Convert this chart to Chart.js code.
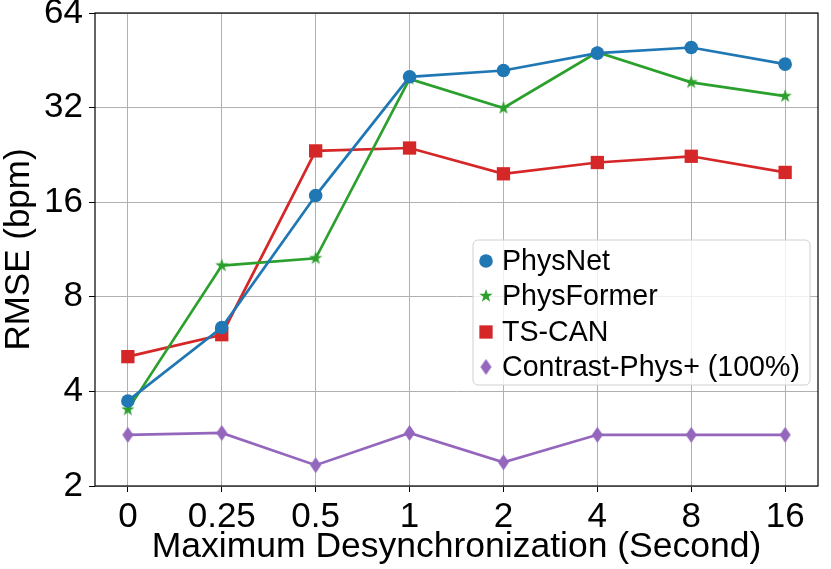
<!DOCTYPE html>
<html>
<head>
<meta charset="utf-8">
<script src="https://cdn.jsdelivr.net/npm/chart.js@4.4.0/dist/chart.umd.min.js"></script>
<style>
  html, body { margin: 0; padding: 0; background: #fff; }
  #wrap { width: 831px; height: 569px; }
</style>
</head>
<body>
<div id="wrap"><canvas id="chart"></canvas></div>
<script>
// values (RMSE in bpm, log2 axis)
const xLabels = ['0', '0.25', '0.5', '1', '2', '4', '8', '16'];
const yTicks = [2, 4, 8, 16, 32, 64];
const physNet = [3.73, 6.39, 16.8, 40.1, 42.0, 47.7, 49.7, 44.0];
const physFormer = [3.50, 10.06, 10.61, 39.5, 31.9, 48.0, 38.5, 34.8];
const tsCan = [5.16, 6.06, 23.3, 23.8, 19.7, 21.4, 22.4, 19.9];
const contrastPhys = [2.91, 2.95, 2.33, 2.95, 2.38, 2.91, 2.91, 2.91];

const FONT = "'Liberation Sans', Arial, Helvetica, sans-serif";

function makeStar(r, color) {
  const c = document.createElement('canvas');
  c.width = c.height = Math.ceil(r * 2 + 2);
  const g = c.getContext('2d');
  const cx = c.width / 2, cy = c.height / 2;
  g.beginPath();
  for (let i = 0; i < 10; i++) {
    const rad = i % 2 === 0 ? r : r * 0.4;
    const a = -Math.PI / 2 + i * Math.PI / 5;
    g.lineTo(cx + rad * Math.cos(a), cy + rad * Math.sin(a));
  }
  g.closePath();
  g.fillStyle = color;
  g.fill();
  return c;
}

function makeDiamond(w, h, color) {
  const c = document.createElement('canvas');
  c.width = Math.ceil(w + 2);
  c.height = Math.ceil(h + 2);
  const g = c.getContext('2d');
  const cx = c.width / 2, cy = c.height / 2;
  g.beginPath();
  g.moveTo(cx, cy - h / 2);
  g.lineTo(cx + w / 2, cy);
  g.lineTo(cx, cy + h / 2);
  g.lineTo(cx - w / 2, cy);
  g.closePath();
  g.fillStyle = color;
  g.fill();
  return c;
}

const toPoints = arr => arr.map((v, i) => ({ x: i, y: v }));

function series(label, values, color, style, radius) {
  return {
    label: label,
    data: toPoints(values),
    borderColor: color,
    backgroundColor: color,
    borderWidth: 2.7,
    pointStyle: style,
    pointRadius: radius,
    pointBorderWidth: 0,
    pointBackgroundColor: color,
    pointBorderColor: color,
    tension: 0,
    fill: false
  };
}

const starImg = makeStar(7, '#2ca02c');
const diamondImg = makeDiamond(11, 16, '#9467bd');

const frame = {
  id: 'frame',
  afterDatasetsDraw(chart) {
    const { ctx, chartArea: a } = chart;
    ctx.save();
    ctx.strokeStyle = '#000';
    ctx.lineWidth = 1.2;
    ctx.strokeRect(a.left, a.top, a.right - a.left, a.bottom - a.top);
    ctx.restore();
  }
};

const legendBox = {
  id: 'legendBox',
  afterDraw(chart) {
    const ctx = chart.ctx;
    const x0 = 473, y0 = 240, w = 337, h = 145, r = 5;
    ctx.save();
    ctx.beginPath();
    ctx.roundRect(x0, y0, w, h, r);
    ctx.fillStyle = 'rgba(255,255,255,0.8)';
    ctx.fill();
    ctx.strokeStyle = '#d0d0d0';
    ctx.lineWidth = 1;
    ctx.stroke();
    ctx.font = '28.6px ' + FONT;
    ctx.textBaseline = 'middle';
    ctx.fillStyle = '#000';
    const rows = [261, 296, 332, 367];
    chart.data.datasets.forEach((ds, i) => {
      const y = rows[i];
      ctx.fillStyle = ds.pointBackgroundColor;
      Chart.helpers.drawPoint(ctx, {
        pointStyle: ds.pointStyle,
        radius: ds.pointRadius,
        rotation: 0,
        borderWidth: 0
      }, 486, y);
      ctx.fillStyle = '#000';
      ctx.fillText(ds.label, 502, y + 1);
    });
    ctx.restore();
  }
};

new Chart(document.getElementById('chart'), {
  type: 'line',
  data: {
    datasets: [
      series('PhysNet', physNet, '#1f77b4', 'circle', 6.8),
      series('PhysFormer', physFormer, '#2ca02c', starImg, 7),
      series('TS-CAN', tsCan, '#d62728', 'rect', 9.4),
      series('Contrast-Phys+ (100%)', contrastPhys, '#9467bd', diamondImg, 8)
    ]
  },
  options: {
    responsive: true,
    maintainAspectRatio: false,
    animation: false,
    layout: { padding: { top: 13, right: 13, left: 0, bottom: 0 } },
    plugins: {
      legend: { display: false },
      tooltip: { enabled: false }
    },
    scales: {
      x: {
        type: 'linear',
        min: -0.35,
        max: 7.35,
        afterBuildTicks: s => { s.ticks = xLabels.map((_, i) => ({ value: i })); },
        afterFit: s => { s.height = 83; s.paddingLeft = 0; s.paddingRight = 0; },
        ticks: {
          callback: v => xLabels[v],
          font: { family: FONT, size: 35 },
          color: '#000',
          padding: 4,
          maxRotation: 0,
          autoSkip: false
        },
        grid: { color: '#b0b0b0', tickColor: '#000', tickLength: 6, lineWidth: 1 },
        border: { display: false },
        title: {
          display: true,
          text: 'Maximum Desynchronization (Second)',
          font: { family: FONT, size: 35.5 },
          color: '#000',
          padding: 0
        }
      },
      y: {
        type: 'logarithmic',
        min: 2,
        max: 64,
        afterBuildTicks: s => { s.ticks = yTicks.map(v => ({ value: v })); },
        afterFit: s => { s.width = 95; s.paddingTop = 0; s.paddingBottom = 0; },
        ticks: {
          callback: v => String(v),
          font: { family: FONT, size: 35 },
          color: '#000',
          padding: 6,
          autoSkip: false
        },
        grid: { color: '#b0b0b0', tickColor: '#000', tickLength: 6, lineWidth: 1 },
        border: { display: false },
        title: {
          display: true,
          text: 'RMSE (bpm)',
          font: { family: FONT, size: 35, lineHeight: 1.1 },
          color: '#000',
          padding: 0
        }
      }
    }
  },
  plugins: [frame, legendBox]
});
</script>
</body>
</html>
